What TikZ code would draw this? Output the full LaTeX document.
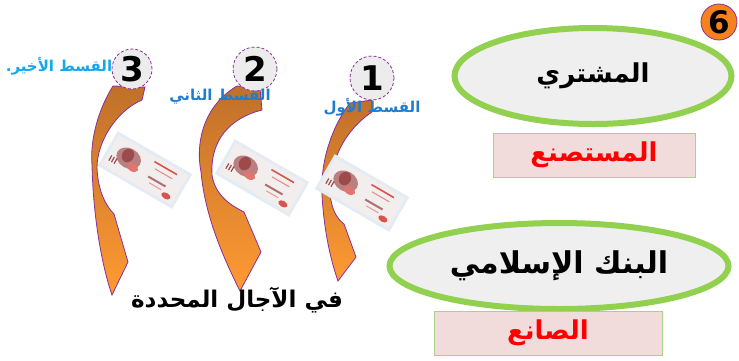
\documentclass[tikz,border=0pt]{standalone}
\usepackage{fontspec}
\usetikzlibrary{shapes.geometric}
\newfontfamily\arabicfont[Script=Arabic]{DejaVu Sans}
\newfontfamily\digitfont{DejaVu Sans}
\TeXXeTstate=1
\newcommand\artxt[1]{{\arabicfont\bfseries\beginR #1\endR}}

\definecolor{leafgreen}{HTML}{92D050}
\definecolor{ovalfill}{HTML}{EFEFEF}
\definecolor{rolegreen}{HTML}{A9D18E}
\definecolor{rolefill}{HTML}{F2DCDB}
\definecolor{discpurple}{HTML}{8B2F9B}
\definecolor{discfill}{HTML}{ECECEC}
\definecolor{badgeorange}{HTML}{F5821F}
\definecolor{arrowtop}{HTML}{C0702A}
\definecolor{arrowmid}{HTML}{E38530}
\definecolor{arrowbot}{HTML}{FF9A33}
\definecolor{labelblue}{HTML}{1F7DD0}
\definecolor{labelcyan}{HTML}{12A8EA}
\definecolor{notepaper}{HTML}{F3EEEE}
\definecolor{noteedge}{HTML}{E2ECF2}
\definecolor{noteink}{HTML}{9C4A4A}
\definecolor{notered}{HTML}{D9534F}

% a small banknote, centred at #1,#2 and tilted down to the right
\newcommand\banknote[2]{%
  \begin{scope}[shift={(#1,#2)},rotate=-30]
    \fill[noteedge] (-43,-20) rectangle (43,20);
    \fill[notepaper] (-40,-17) rectangle (40,17);
    \fill[noteink!70] (-20,-2) ellipse (13 and 10);
    \fill[noteink] (-22,-4) ellipse (6 and 7);
    \fill[notered!80] (-12,4) ellipse (6 and 4);
    \draw[notered, line width=1.6pt] (4,-12) -- (30,-12);
    \draw[notered!70, line width=1pt] (8,-6) -- (28,-6);
    \draw[noteink!80, line width=2pt] (6,4) -- (26,4);
    \draw[notered!60, line width=1pt] (10,9) -- (24,9);
    \fill[notered] (31,12) ellipse (5 and 3);
    \draw[noteink, line width=1.2pt] (-36,4) -- (-36,10) (-33,4) -- (-33,10) (-30,4) -- (-30,10);
  \end{scope}}

\begin{document}
\begin{tikzpicture}[x=1pt,y=-1pt,
  party/.style={ellipse, draw=leafgreen, line width=6pt, fill=ovalfill, inner sep=0pt},
  role/.style={rectangle, draw=rolegreen, line width=1pt, fill=rolefill, inner sep=0pt,
               text=red, font=\fontsize{26}{30}\selectfont},
  numdisc/.style={circle, draw=discpurple, line width=0.8pt, densely dashed, fill=discfill,
                  inner sep=0pt, minimum size=44pt, font=\digitfont\bfseries\fontsize{34}{34}\selectfont},
  payarrow/.style={draw=discpurple, line width=0.8pt, top color=arrowtop,
                   middle color=arrowmid, bottom color=arrowbot},
  instal/.style={inner sep=0pt, font=\fontsize{15}{17}\selectfont}]
\useasboundingbox (0,0) rectangle (739,360);

% the two parties and their roles
\node[party, minimum width=277pt, minimum height=96pt, font=\fontsize{26}{30}\selectfont]
  (buyer) at (593,76) {\artxt{المشتري}};
\node[role, minimum width=202pt, minimum height=44pt] (buyerrole) at (594,155) {\artxt{المستصنع}};
\node[party, minimum width=339pt, minimum height=86pt, font=\fontsize{30}{34}\selectfont]
  (bank) at (559,266) {\artxt{البنك الإسلامي}};
\node[role, minimum width=228pt, minimum height=44pt] (bankrole) at (548,333) {\artxt{الصانع}};

% badge in the corner
\node[circle, draw=discpurple, line width=0.8pt, fill=badgeorange, inner sep=0pt,
      minimum size=36pt, font=\digitfont\bfseries\fontsize{31}{31}\selectfont]
  (badge) at (719,22) {6};

% curved payment arrows
\path[payarrow] (113,86) .. controls (98,110) and (90,140) .. (92,165)
  .. controls (93,210) and (100,260) .. (112,295)
  -- (128,262) -- (114,214)
  .. controls (105,205) and (98,190) .. (97,168)
  .. controls (97,140) and (118,110) .. (142,100)
  -- (145,87) -- cycle;
\path[payarrow] (237,86) .. controls (205,105) and (195,140) .. (201,172)
  .. controls (205,215) and (222,255) .. (240,291)
  -- (261,252) -- (244,212)
  .. controls (230,205) and (215,195) .. (212,175)
  .. controls (210,140) and (230,118) .. (262,110)
  -- (260,88) -- cycle;
\path[payarrow] (350,103) .. controls (333,125) and (320,160) .. (322,195)
  .. controls (324,230) and (330,258) .. (338,281)
  -- (356,257) -- (344,224)
  .. controls (336,218) and (331,208) .. (330,192)
  .. controls (330,160) and (345,130) .. (372,112)
  -- (372,100) -- cycle;

% banknotes
\banknote{145}{170}
\banknote{262}{178}
\banknote{362}{193}

% instalment numbers
\node[numdisc, minimum size=40pt] (n3) at (132,69) {3};
\node[numdisc] (n2) at (255,69) {2};
\node[numdisc] (n1) at (372,78) {1};

% instalment labels
\node[instal, text=labelcyan] (l3) at (59,66) {\artxt{القسط الأخير.}};
\node[instal, text=labelblue] (l2) at (220,97) {\artxt{القسط الثاني}};
\node[instal, text=labelblue] (l1) at (372,107) {\artxt{القسط الأول}};

% due dates
\node[inner sep=0pt, font=\fontsize{23}{27}\selectfont] (due) at (237,300) {\artxt{في الآجال المحددة}};
\end{tikzpicture}
\end{document}
